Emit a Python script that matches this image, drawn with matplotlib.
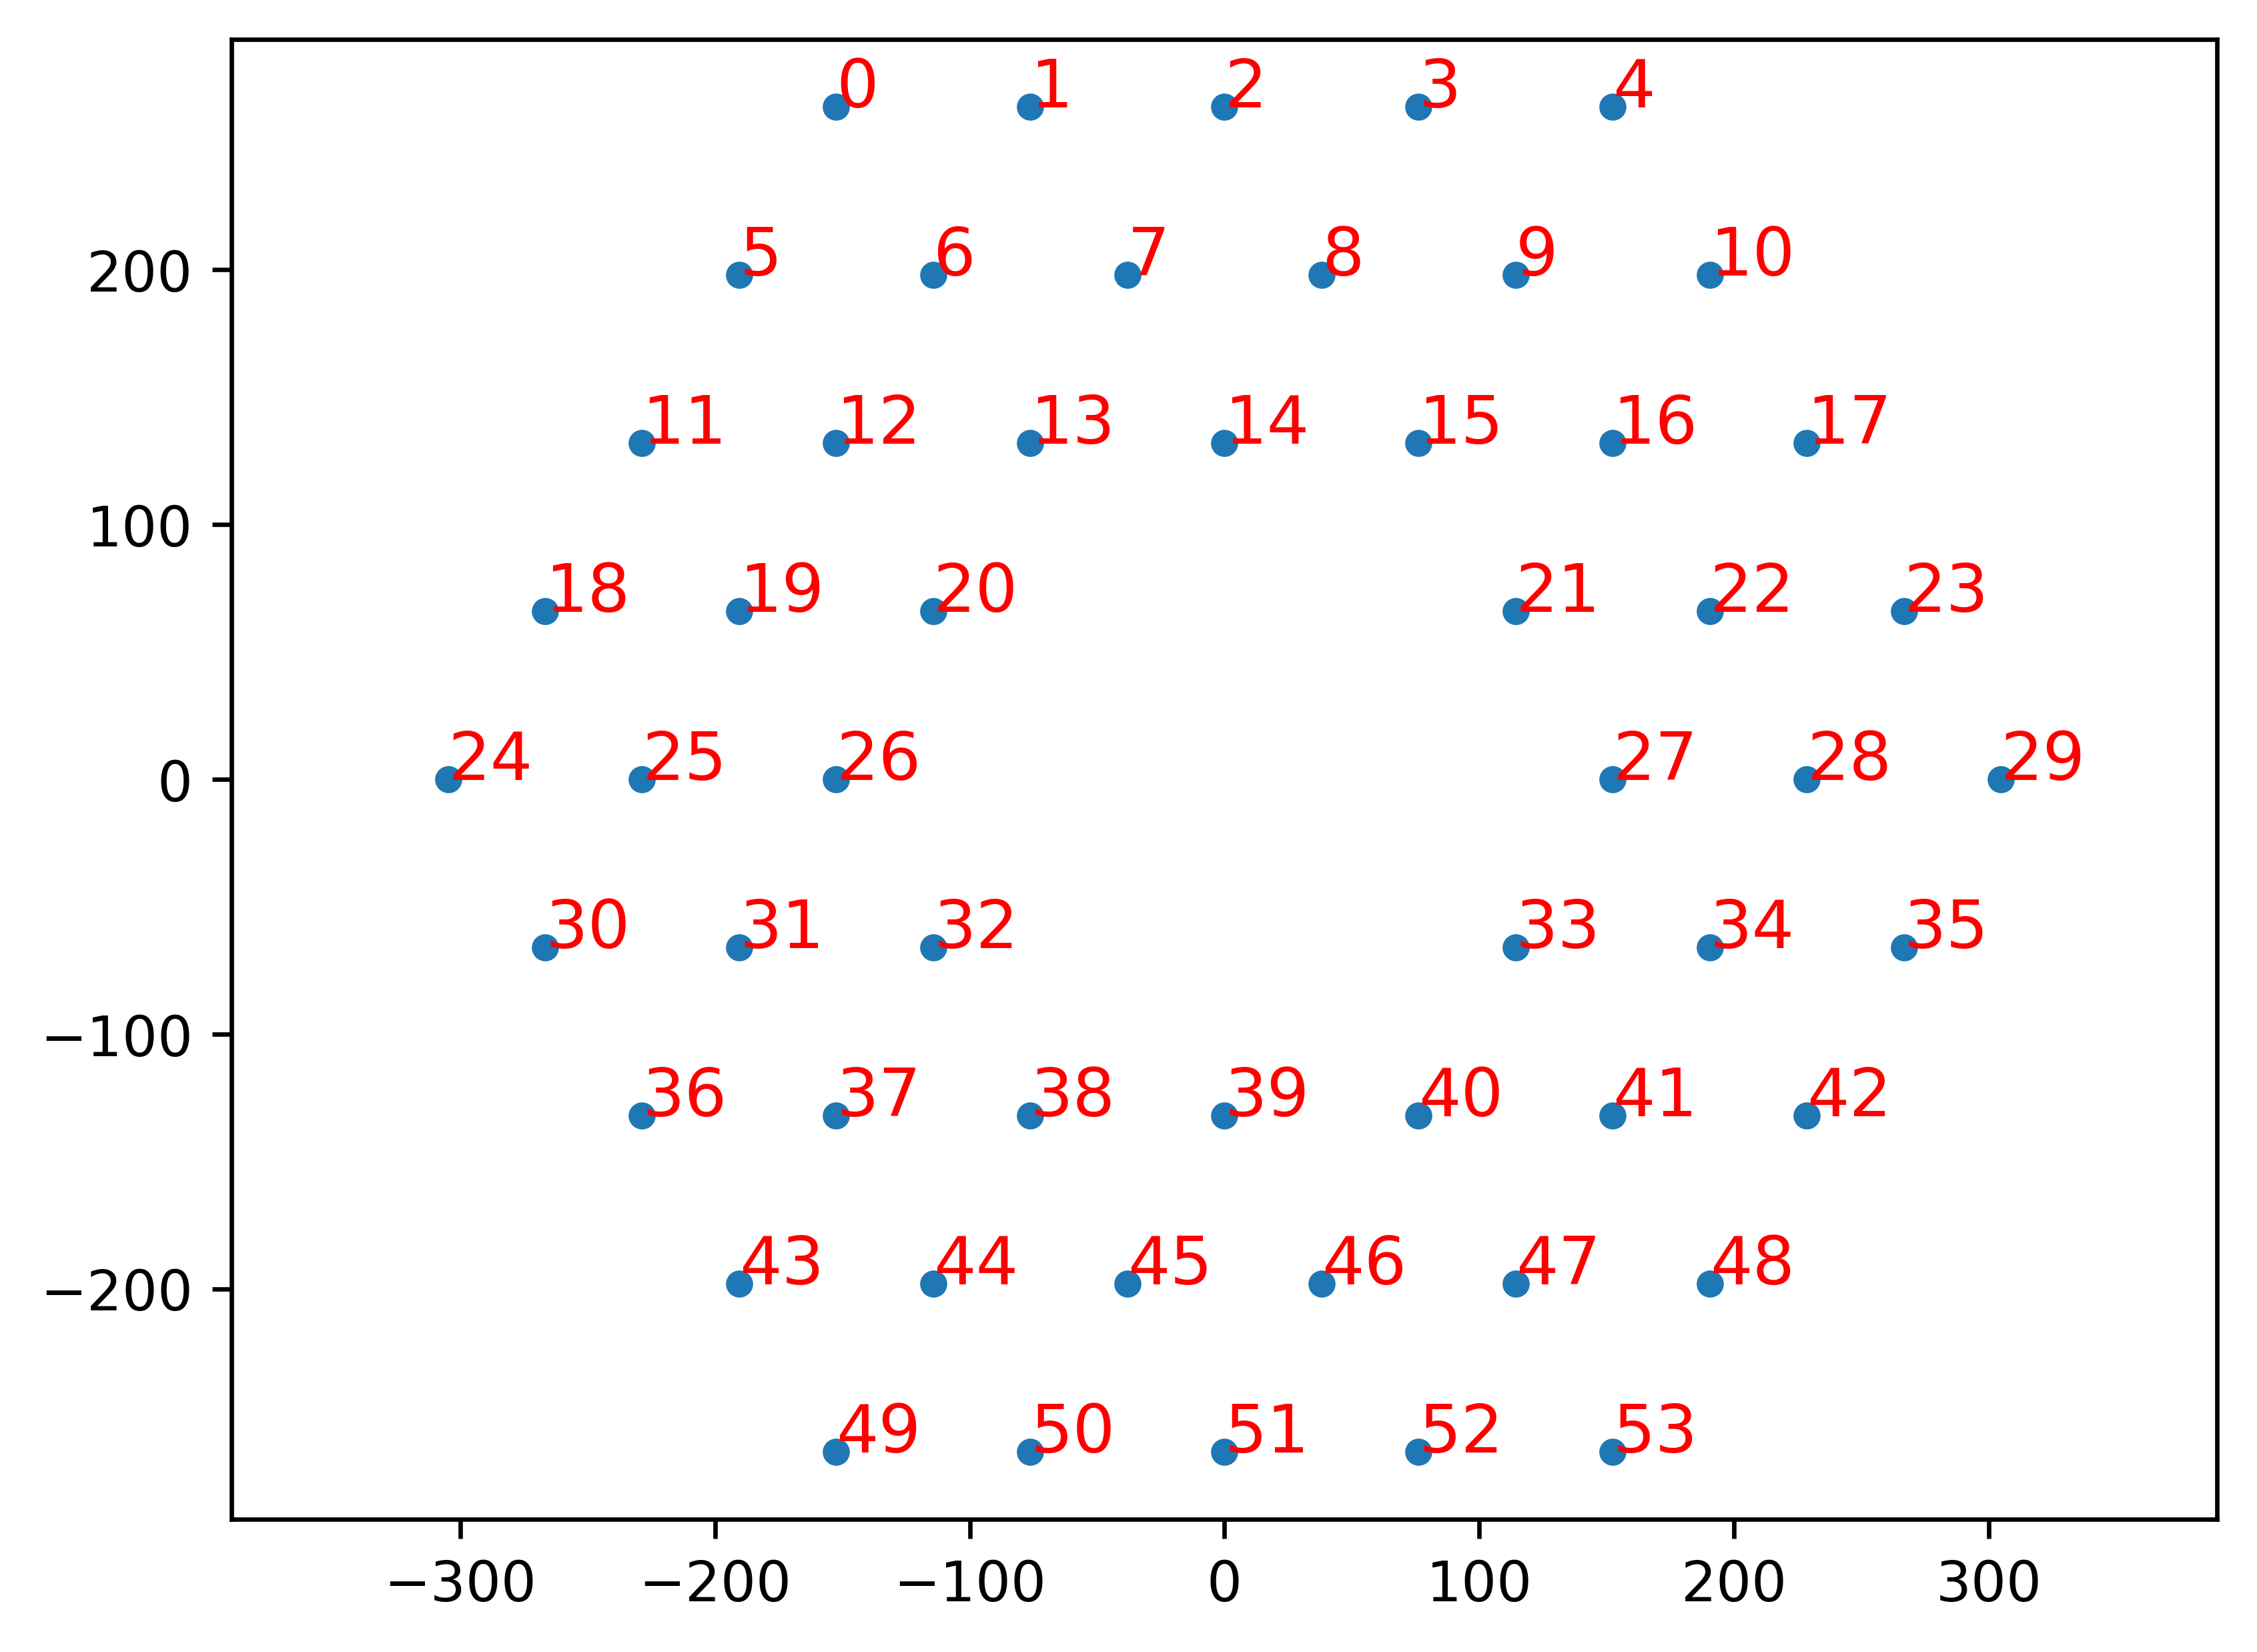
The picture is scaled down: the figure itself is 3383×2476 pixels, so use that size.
import matplotlib
matplotlib.use("Agg")
import matplotlib.pyplot as plt

# hexagonal grid of points, row by row from top
x = [-152.4, -76.2, 0, 76.2, 152.4,
     -190.5, -114.3, -38.1, 38.1, 114.3, 190.5,
     -228.6, -152.4, -76.2, 0, 76.2, 152.4, 228.6,
     -266.7, -190.5, -114.3, 114.3, 190.5, 266.7,
     -304.8, -228.6, -152.4, 152.4, 228.6, 304.8,
     -266.7, -190.5, -114.3, 114.3, 190.5, 266.7,
     -228.6, -152.4, -76.2, 0, 76.2, 152.4, 228.6,
     -190.5, -114.3, -38.1, 38.1, 114.3, 190.5,
     -152.4, -76.2, 0, 76.2, 152.4]
y = [264] * 5 + [198] * 6 + [132] * 7 + [66] * 6 + [0] * 6 + \
    [-66] * 6 + [-132] * 7 + [-198] * 6 + [-264] * 5
labels = [str(i) for i in range(len(x))]

fig = plt.figure(figsize=(6.4, 4.8))
ax = fig.add_subplot(111)
ax.scatter(x, y, s=15)
for xi, yi, lab in zip(x, y, labels):
    ax.text(xi, yi, lab, color='red', fontsize=12)
ax.axis('equal')

fig.savefig('out.png', dpi=600, bbox_inches='tight')
